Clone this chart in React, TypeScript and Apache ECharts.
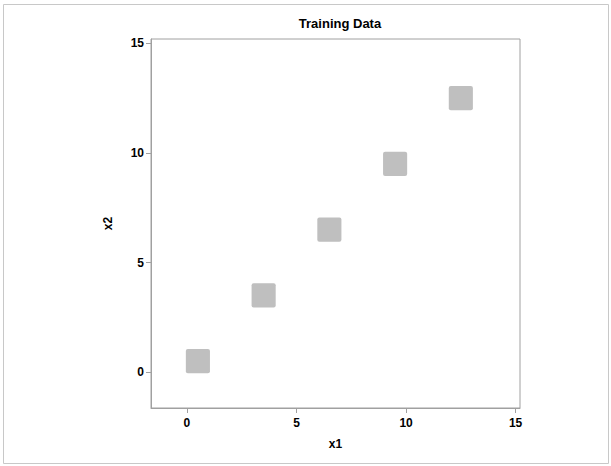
import React, { useEffect, useRef } from "react";
import * as echarts from "echarts";

// Cluster extents (data units)
const clusterXLow = [-0.05, 2.95, 5.95, 8.95, 11.95];
const clusterXHigh = [1.05, 4.05, 7.05, 10.05, 13.05];
const clusterYLow = [-0.05, 2.95, 5.95, 8.95, 11.95];
const clusterYHigh = [1.05, 4.05, 7.05, 10.05, 13.05];
const tickValues = [0, 5, 10, 15];

export default function App() {
  const ref = useRef<HTMLDivElement>(null);
  useEffect(() => {
    document.body.style.margin = "0";
    const chart = echarts.init(ref.current!, null, { renderer: "svg" });
    const data = clusterXLow.map((x0, i) => [x0, clusterYLow[i], clusterXHigh[i], clusterYHigh[i]]);
    const font = "Arial, 'Liberation Sans', sans-serif";
    chart.setOption({
      animation: false,
      backgroundColor: "#fff",
      title: {
        text: "Training Data",
        left: 335,
        top: 12,
        textAlign: "center",
        textStyle: { fontFamily: font, fontSize: 13, fontWeight: "bold", color: "#000" },
      },
      graphic: [
        {
          type: "rect",
          shape: { x: 3.5, y: 4.5, width: 605, height: 459 },
          style: { fill: "none", stroke: "#c8c8c8", lineWidth: 1 },
          silent: true,
        },
      ],
      grid: {
        left: 151,
        top: 39,
        width: 369,
        height: 369,
        show: true,
        borderColor: "#a0a0a0",
        borderWidth: 1,
        backgroundColor: "transparent",
      },
      xAxis: {
        type: "value",
        min: -1.64,
        max: 15.2,
        name: "x1",
        nameLocation: "middle",
        nameGap: 30,
        nameTextStyle: { fontFamily: font, fontSize: 12, fontWeight: "bold", color: "#000" },
        axisLine: { show: true, onZero: false, lineStyle: { color: "#a0a0a0" } },
        axisTick: { show: true, length: 5, lineStyle: { color: "#a0a0a0" }, customValues: tickValues },
        axisLabel: {
          margin: 9,
          fontFamily: font,
          fontSize: 12,
          fontWeight: "bold",
          color: "#000",
          customValues: tickValues,
        },
        splitLine: { show: false },
      },
      yAxis: {
        type: "value",
        min: -1.64,
        max: 15.2,
        name: "x2",
        nameLocation: "middle",
        nameGap: 37,
        nameTextStyle: { fontFamily: font, fontSize: 12, fontWeight: "bold", color: "#000" },
        axisLine: { show: true, onZero: false, lineStyle: { color: "#a0a0a0" } },
        axisTick: { show: true, length: 5, lineStyle: { color: "#a0a0a0" }, customValues: tickValues },
        axisLabel: {
          margin: 7,
          fontFamily: font,
          fontSize: 12,
          fontWeight: "bold",
          color: "#000",
          customValues: tickValues,
        },
        splitLine: { show: false },
      },
      series: [
        {
          type: "custom",
          data,
          renderItem: (params: any, api: any) => {
            const p0 = api.coord([api.value(0), api.value(3)]);
            const p1 = api.coord([api.value(2), api.value(1)]);
            return {
              type: "rect",
              shape: { x: p0[0], y: p0[1], width: p1[0] - p0[0], height: p1[1] - p0[1], r: 2 },
              style: { fill: "#bfbfbf" },
            };
          },
        },
      ],
    });
    return () => chart.dispose();
  }, []);
  return <div ref={ref} style={{ width: 611, height: 466 }} />;
}
